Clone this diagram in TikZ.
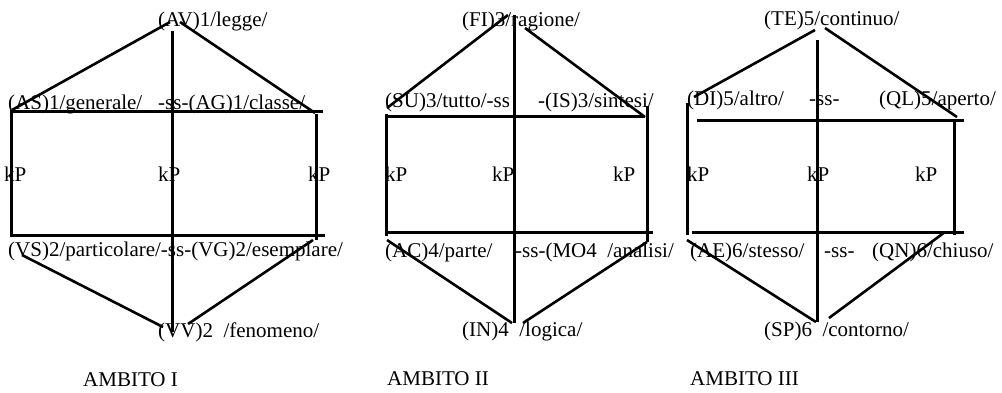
\documentclass[tikz,border=0pt]{standalone}
\usepackage{fontspec}
\setmainfont{Liberation Serif}
\begin{document}
\begin{tikzpicture}[x=1pt,y=-1pt,
  lbl/.style={anchor=base west,inner sep=0pt,font=\fontsize{21}{25}\selectfont},
  ln/.style={line width=3pt,line cap=butt},
  dg/.style={line width=2.6pt}]
\path[use as bounding box,fill=white] (0,0) rectangle (1002,392);
% ---------- AMBITO I ----------
\node[lbl] (av) at (158,26) {(AV)1/legge/};
\node[lbl] (as) at (8,109) {(AS)1/generale/};
\node[lbl] (ag) at (158,109) {-ss-(AG)1/classe/};
\node[lbl] (k1a) at (4,181) {kP};
\node[lbl] (k1b) at (158,181) {kP};
\node[lbl] (k1c) at (308,181) {kP};
\node[lbl] (vs) at (8,256) {(VS)2/particolare/-ss-(VG)2/esemplare/};
\node[lbl] (vv) at (158,337) {(VV)2\ \ /fenomeno/};
\node[lbl] (amb1) at (83,386) {AMBITO I};
\coordinate (a1) at (170,22); \coordinate (a2) at (12,110);
\coordinate (a3) at (180,22); \coordinate (a4) at (315,113);
\coordinate (a5) at (172,31); \coordinate (a6) at (172,332);
\coordinate (a7) at (10,111); \coordinate (a8) at (323,111);
\coordinate (a9) at (11,110); \coordinate (a10) at (11,236);
\coordinate (a11) at (316,114); \coordinate (a12) at (316,240);
\coordinate (a13) at (10,235); \coordinate (a14) at (325,235);
\coordinate (a15) at (22,255); \coordinate (a16) at (163,327);
\coordinate (a17) at (313,240); \coordinate (a18) at (188,324);
\draw[dg] (a1) -- (a2); \draw[dg] (a3) -- (a4);
\draw[ln] (a5) -- (a6); \draw[ln] (a7) -- (a8);
\draw[ln] (a9) -- (a10); \draw[ln] (a11) -- (a12);
\draw[ln] (a13) -- (a14);
\draw[dg] (a15) -- (a16); \draw[dg] (a17) -- (a18);
% ---------- AMBITO II ----------
\node[lbl] (fi) at (462,26) {(FI)3/ragione/};
\node[lbl] (su) at (385,107) {(SU)3/tutto/-ss};
\node[lbl] (is) at (538,107) {-(IS)3/sintesi/};
\node[lbl] (k2a) at (385,181) {kP};
\node[lbl] (k2b) at (492,181) {kP};
\node[lbl] (k2c) at (613,181) {kP};
\node[lbl] (ac) at (385,257) {(AC)4/parte/};
\node[lbl] (mo) at (515,257) {-ss-(MO4\ \ /analisi/};
\node[lbl] (in) at (462,336) {(IN)4\ \ /logica/};
\node[lbl] (amb2) at (387,385) {AMBITO II};
\coordinate (b1) at (508,15); \coordinate (b2) at (387,108);
\coordinate (b3) at (525,28); \coordinate (b4) at (645,117);
\coordinate (b5) at (514,15); \coordinate (b6) at (514,323);
\coordinate (b7) at (388,116); \coordinate (b8) at (645,116);
\coordinate (b9) at (386,114); \coordinate (b10) at (386,236);
\coordinate (b11) at (647,106); \coordinate (b12) at (647,242);
\coordinate (b13) at (388,232); \coordinate (b14) at (653,232);
\coordinate (b15) at (387,240); \coordinate (b16) at (512,323);
\coordinate (b17) at (647,242); \coordinate (b18) at (523,323);
\draw[dg] (b1) -- (b2); \draw[dg] (b3) -- (b4);
\draw[ln] (b5) -- (b6); \draw[ln] (b7) -- (b8);
\draw[ln] (b9) -- (b10); \draw[ln] (b11) -- (b12);
\draw[ln] (b13) -- (b14);
\draw[dg] (b15) -- (b16); \draw[dg] (b17) -- (b18);
% ---------- AMBITO III ----------
\node[lbl] (te) at (764,25) {(TE)5/continuo/};
\node[lbl] (di) at (687,105) {(DI)5/altro/};
\node[lbl] (ss3) at (809,105) {-ss-};
\node[lbl] (ql) at (879,105) {(QL)5/aperto/};
\node[lbl] (k3a) at (687,181) {kP};
\node[lbl] (k3b) at (807,181) {kP};
\node[lbl] (k3c) at (915,181) {kP};
\node[lbl] (ae) at (690,257) {(AE)6/stesso/};
\node[lbl] (ss4) at (824,257) {-ss-};
\node[lbl] (qn) at (872,257) {(QN)6/chiuso/};
\node[lbl] (sp) at (764,336) {(SP)6\ \ /contorno/};
\node[lbl] (amb3) at (690,385) {AMBITO III};
\coordinate (c1) at (815,30); \coordinate (c2) at (694,97);
\coordinate (c3) at (825,28); \coordinate (c4) at (957,117);
\coordinate (c5) at (817,40); \coordinate (c6) at (817,322);
\coordinate (c7) at (697,120); \coordinate (c8) at (964,120);
\coordinate (c9) at (687,103); \coordinate (c10) at (687,235);
\coordinate (c11) at (954,122); \coordinate (c12) at (954,235);
\coordinate (c13) at (692,232); \coordinate (c14) at (964,232);
\coordinate (c15) at (687,240); \coordinate (c16) at (816,322);
\coordinate (c17) at (945,232); \coordinate (c18) at (829,318);
\draw[dg] (c1) -- (c2); \draw[dg] (c3) -- (c4);
\draw[ln] (c5) -- (c6); \draw[ln] (c7) -- (c8);
\draw[ln] (c9) -- (c10); \draw[ln] (c11) -- (c12);
\draw[ln] (c13) -- (c14);
\draw[dg] (c15) -- (c16); \draw[dg] (c17) -- (c18);
\end{tikzpicture}
\end{document}
